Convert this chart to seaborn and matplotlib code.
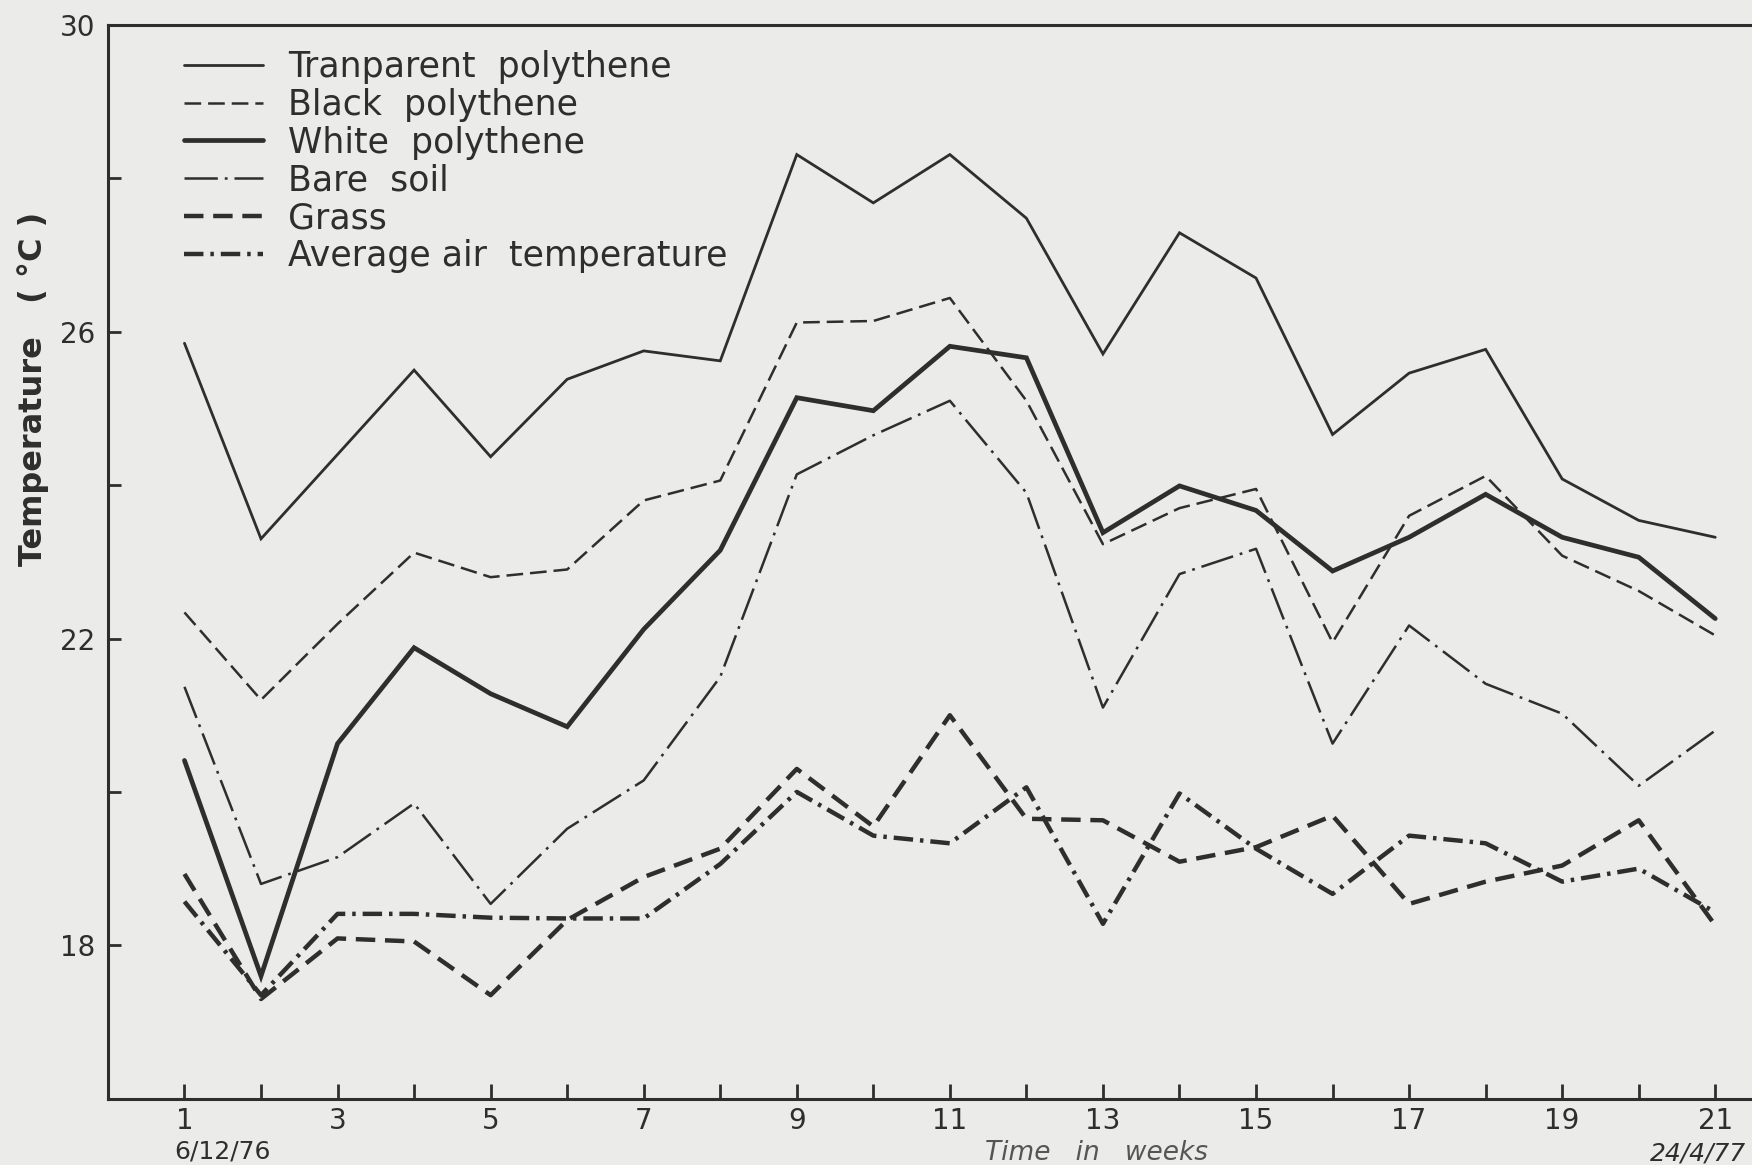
import numpy as np
import pandas as pd
import matplotlib
matplotlib.use("Agg")
import matplotlib.pyplot as plt
import seaborn as sns

# ---- data ----
weeks = list(range(1, 22))
transparent = [25.85, 23.3, 24.4, 25.5, 24.37, 25.38, 25.75, 25.62, 28.31, 27.68, 28.31,
               27.48, 25.71, 27.29, 26.7, 24.66, 25.46, 25.77, 24.08, 23.54, 23.32]
black = [22.34, 21.2, 22.19, 23.12, 22.8, 22.9, 23.8, 24.06, 26.12, 26.14, 26.44,
         25.1, 23.23, 23.7, 23.95, 21.95, 23.6, 24.12, 23.08, 22.62, 22.04]
white = [20.41, 17.6, 20.63, 21.88, 21.28, 20.85, 22.12, 23.15, 25.14, 24.97, 25.81,
         25.66, 23.38, 23.99, 23.67, 22.88, 23.32, 23.88, 23.32, 23.06, 22.26]
bare_soil = [21.37, 18.8, 19.15, 19.85, 18.54, 19.52, 20.15, 21.5, 24.14, 24.65, 25.1,
             23.9, 21.1, 22.84, 23.17, 20.63, 22.17, 21.41, 21.02, 20.08, 20.8]
grass = [18.93, 17.3, 18.09, 18.05, 17.35, 18.33, 18.89, 19.26, 20.3, 19.55, 21.0,
         19.65, 19.63, 19.09, 19.28, 19.69, 18.54, 18.83, 19.04, 19.63, 18.26]
air = [18.57, 17.35, 18.41, 18.41, 18.36, 18.35, 18.35, 19.06, 20.0, 19.43, 19.33,
       20.06, 18.28, 19.98, 19.26, 18.67, 19.43, 19.33, 18.83, 19.0, 18.43]

series_names = ["Tranparent  polythene", "Black  polythene", "White  polythene",
                "Bare  soil", "Grass", "Average air  temperature"]
series_values = [transparent, black, white, bare_soil, grass, air]

y_major = [18, 22, 26, 30]
y_minor = [20, 24, 28]
x_major = list(range(1, 22, 2))
x_minor = list(range(2, 21, 2))

# ---- styles ----
ink = "#2e2e2e"
paper = "#ebebea"
styles = [
    dict(lw=2.0, ls="-"),
    dict(lw=1.8, ls=(0, (12, 5))),
    dict(lw=3.4, ls="-"),
    dict(lw=1.8, ls=(0, (24, 5, 2, 5))),
    dict(lw=3.2, ls=(0, (14, 7))),
    dict(lw=3.2, ls=(0, (14, 5, 2.5, 5))),
]

sns.set_theme(style="ticks")
plt.rcParams["font.family"] = ["DejaVu Sans"]
plt.rcParams["lines.scale_dashes"] = False

fig = plt.figure(figsize=(17.52, 11.65), dpi=100, facecolor=paper)
ax = fig.add_axes([0.0616, 0.0569, 0.9384, 0.9217])
ax.set_facecolor(paper)

for name, vals, st in zip(series_names, series_values, styles):
    df = pd.DataFrame({"week": weeks, "temp": vals})
    sns.lineplot(data=df, x="week", y="temp", ax=ax, color=ink,
                 linewidth=st["lw"], linestyle=st["ls"], label=name,
                 solid_joinstyle="miter", dash_capstyle="butt")

ax.set_xlim(0, 21.48)
ax.set_ylim(16, 30)

ax.set_yticks(y_major)
ax.set_yticks(y_minor, minor=True)
ax.set_yticklabels([str(v) for v in y_major])
ax.set_xticks(x_major)
ax.set_xticks(x_minor, minor=True)
ax.set_xticklabels([str(v) for v in x_major])

ax.tick_params(axis="both", which="both", direction="in", color=ink,
               width=2.0, labelsize=20, labelcolor=ink)
ax.tick_params(axis="y", which="both", length=9, pad=9)
ax.tick_params(axis="x", which="both", length=11, pad=6)

for side in ["left", "bottom", "top"]:
    ax.spines[side].set_visible(True)
    ax.spines[side].set_color(ink)
    ax.spines[side].set_linewidth(2.2)
ax.spines["right"].set_visible(False)

ax.set_xlabel("")
ax.set_ylabel("")

fig.text(0.019, 0.666, "Temperature   ( °C )", rotation=90, ha="center", va="center",
         fontsize=23, fontweight="bold", color=ink)
fig.text(0.6256, 0.0105, "Time   in   weeks", ha="center", va="center",
         fontsize=19, color="#555555", style="italic")
fig.text(0.127, 0.012, "6/12/76", ha="center", va="center", fontsize=18, color=ink)
fig.text(0.942, 0.010, "24/4/77", ha="left", va="center", fontsize=18, color=ink,
         style="italic")

leg = ax.legend(loc="upper left", bbox_to_anchor=(184 / 1752, 1 - 50 / 1165),
                bbox_transform=fig.transFigure, frameon=False, fontsize=25,
                handlelength=2.28, handletextpad=0.72, labelspacing=0.11,
                borderpad=0, borderaxespad=0)
for t in leg.get_texts():
    t.set_color(ink)

fig.savefig("out.png", dpi=100, facecolor=paper)
